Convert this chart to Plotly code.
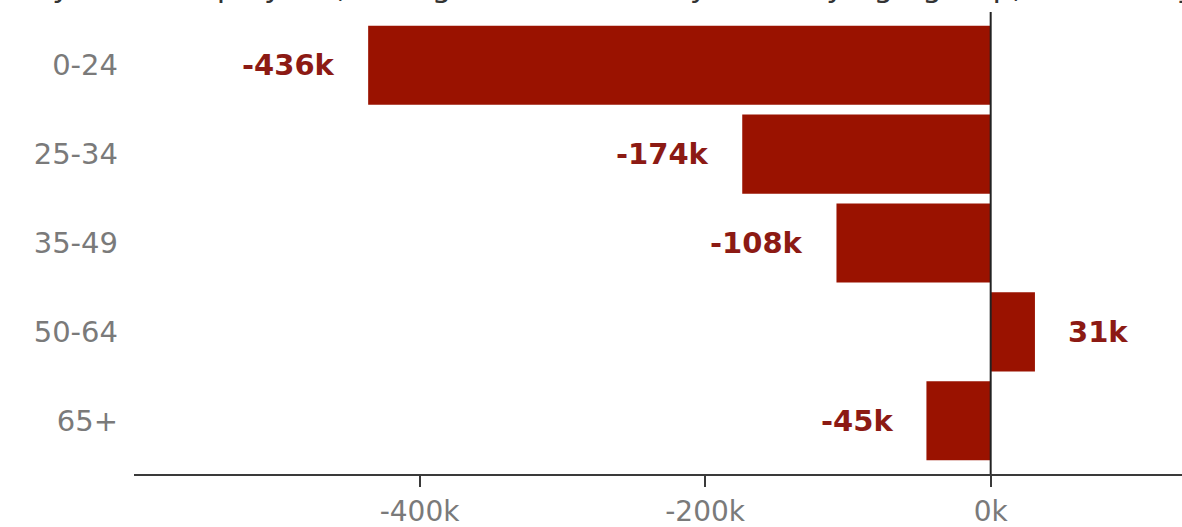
import plotly.graph_objects as go

categories = ["0-24", "25-34", "35-49", "50-64", "65+"]
values = [-436000, -174000, -108000, 31000, -45000]
value_labels = ["-436k", "-174k", "-108k", "31k", "-45k"]
x_tickvals = [-400000, -200000, 0]
x_ticktext = ["-400k", "-200k", "0k"]
title_text = "Payrolled employees, change since February 2020 by age group, seasonally adjusted"

BAR = "#9a1200"
LABEL = "#8c1a14"
GREY = "#7a7a7a"
AXIS = "#3a3a3a"

fig = go.Figure()
fig.add_trace(go.Bar(
    x=values, y=categories, orientation="h",
    marker=dict(color=BAR, line=dict(width=0)),
    hoverinfo="skip",
))

for v, c, t in zip(values, categories, value_labels):
    neg = v < 0
    fig.add_annotation(
        x=v, y=c, text=t, showarrow=False,
        xanchor="right" if neg else "left",
        xshift=-31 if neg else 31,
        font=dict(family="DejaVu Sans", size=29, color=LABEL, weight="bold"),
    )

fig.add_shape(type="line", x0=0, x1=0, xref="x", y0=0, y1=1, yref="paper",
              line=dict(color="#222222", width=2), layer="above")

fig.add_annotation(
    x=0.0, xref="paper", xanchor="left", y=1, yref="paper", yanchor="bottom",
    yshift=6, xshift=-120, text=title_text, showarrow=False,
    font=dict(family="DejaVu Sans", size=31, color="#333333"),
)

fig.update_layout(
    width=1182, height=527,
    margin=dict(l=134, r=0, t=12, b=53),
    paper_bgcolor="white", plot_bgcolor="white",
    bargap=0.11, showlegend=False,
    xaxis=dict(
        range=[-600000, 134000],
        tickvals=x_tickvals, ticktext=x_ticktext,
        showgrid=False, zeroline=False,
        showline=True, linecolor=AXIS, linewidth=2,
        ticks="outside", ticklen=11, tickwidth=1.5, tickcolor=AXIS,
        ticklabelstandoff=0,
        tickfont=dict(family="DejaVu Sans", size=28, color=GREY),
        automargin=False,
        fixedrange=True,
    ),
    yaxis=dict(
        categoryorder="array", categoryarray=categories,
        range=[4.6, -0.6],
        showgrid=False, zeroline=False, showline=False, ticks="",
        ticklabelstandoff=15,
        tickfont=dict(family="DejaVu Sans", size=29, color=GREY),
        automargin=False,
        fixedrange=True,
    ),
)

fig.write_html("out.html")
